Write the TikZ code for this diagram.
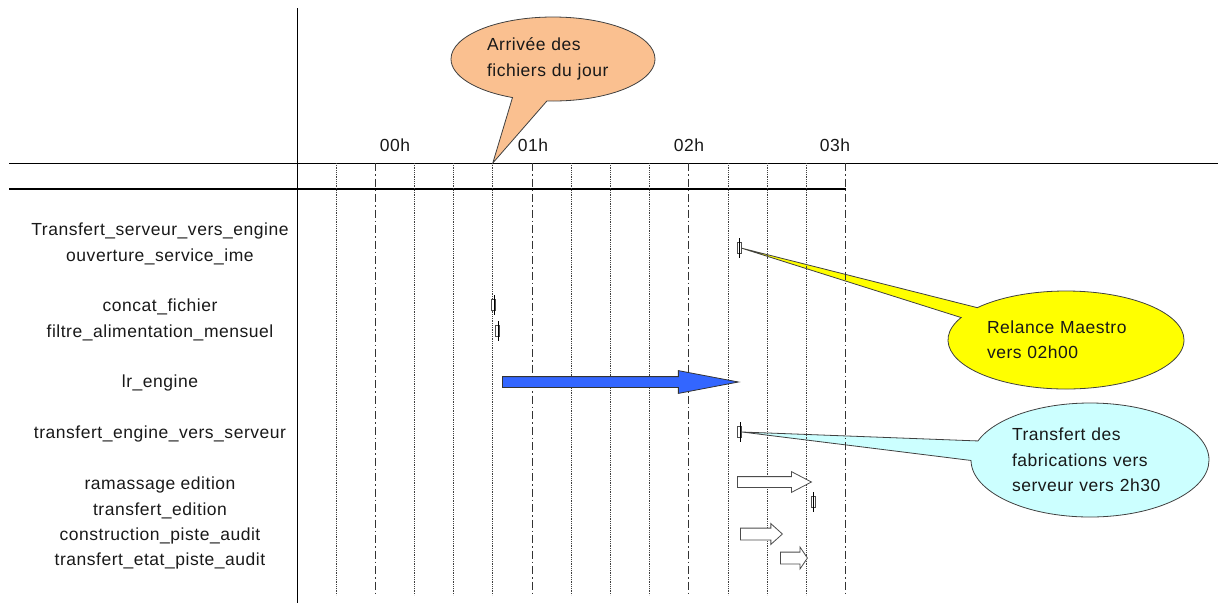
\documentclass[tikz,border=0pt]{standalone}
\usepackage{fontspec}
\setmainfont{Liberation Sans}[LetterSpace=3]
\usetikzlibrary{positioning,shapes.callouts,shapes.arrows}

\definecolor{peche}{RGB}{250,192,144}
\definecolor{jaune}{RGB}{255,255,0}
\definecolor{cyanpale}{RGB}{204,255,255}
\definecolor{bleu}{RGB}{51,102,255}

\tikzset{
  jalon/.pic={
    \draw[gray!60!black, fill=white, line width=0.8] (-2,-5.5) rectangle (2,5.5);
    \draw[line width=0.8] (0.5,-10) -- (0.5,10);
  }
}

\begin{document}
\begin{tikzpicture}[x=1pt, y=-1pt, node distance=25.4pt,
  bulle/.style={ellipse callout, draw=gray!50!black, line width=0.8, inner sep=0, align=left},
  pointille/.style={densely dotted, line width=0.8, black!75},
  heure/.style={dash pattern=on 8pt off 3pt on 1.5pt off 3pt, line width=0.9, black!80},
  barre/.style={single arrow, draw=black!70, fill=white, line width=0.8, single arrow head indent=0, anchor=tail}]
  \tikzstyle{every node}=[font=\fontsize{17.5}{25.4}\selectfont, text=black!90]
  \useasboundingbox (0,0) rectangle (1218,603);

  % bulles
  \coordinate (arrivee) at (492.8,163);
  \coordinate (relance) at (741,248);
  \coordinate (transfert) at (742,432);
  \node[bulle, fill=peche, minimum width=204, minimum height=84, text width=132, callout pointer arc=20,
        callout absolute pointer={(arrivee)}] (c1) at (553,59) {Arrivée des\\fichiers du jour};
  \node[bulle, fill=jaune, minimum width=236, minimum height=98, text width=158, callout pointer arc=14,
        callout absolute pointer={(relance)}] (c2) at (1066,340) {Relance Maestro\\vers 02h00};
  \node[bulle, fill=cyanpale, minimum width=238, minimum height=114, text width=156, callout pointer arc=20,
        callout absolute pointer={(transfert)}] (c3) at (1090,460) {Transfert des\\fabrications vers\\serveur vers 2h30};

  % axes
  \draw[line width=1] (297,8) -- (297,603);
  \draw[line width=1] (9,163) -- (1218,163);
  \draw[line width=2.5] (9,189) -- (845.6,189);

  % grille
  \draw[pointille] (336,163) -- (336,595) (414.4,163) -- (414.4,595) (453.6,163) -- (453.6,595)
    (492.8,163) -- (492.8,595) (571.2,163) -- (571.2,595) (610.4,163) -- (610.4,595)
    (649.6,163) -- (649.6,595) (728,163) -- (728,595) (767.2,163) -- (767.2,595)
    (806.4,163) -- (806.4,595);
  \draw[heure] (375.2,163) -- (375.2,595) (532,163) -- (532,595) (688.8,163) -- (688.8,595)
    (845.6,163) -- (845.6,595);

  \node (h0) at (395,145) {00h};
  \node (h1) at (533,145) {01h};
  \node (h2) at (689,145) {02h};
  \node (h3) at (835,145) {03h};

  % taches
  \node (1) at (160,231) {Transfert\_serveur\_vers\_engine};
  \node (2) [below of=1] {ouverture\_service\_ime};
  \node (3) [below of=2, node distance=50.8pt] {concat\_fichier};
  \node (4) [below of=3] {filtre\_alimentation\_mensuel};
  \node (5) [below of=4, node distance=50.8pt] {lr\_engine};
  \node (6) [below of=5, node distance=50.8pt] {transfert\_engine\_vers\_serveur};
  \node (7) [below of=6, node distance=50.8pt] {ramassage edition};
  \node (8) [below of=7] {transfert\_edition};
  \node (9) [below of=8] {construction\_piste\_audit};
  \node (10) [below of=9] {transfert\_etat\_piste\_audit};

  % barres
  \pic at (739,248) {jalon};
  \pic at (493.5,305) {jalon};
  \pic at (497.5,331) {jalon};
  \pic at (739.5,432) {jalon};
  \pic at (813,502) {jalon};
  \node[barre, fill=bleu, draw=black!80, minimum height=236, inner sep=5,
        single arrow head extend=6, single arrow tip angle=21.5] (b5) at (502,382) {};
  \node[barre, minimum height=74, inner sep=5,
        single arrow head extend=5, single arrow tip angle=55] (b7) at (737,482) {};
  \node[barre, minimum height=42, inner sep=5.5,
        single arrow head extend=4.5, single arrow tip angle=84] (b9) at (740,534) {};
  \node[barre, minimum height=27, inner sep=5.5,
        single arrow head extend=5, single arrow tip angle=112] (b10) at (780,558) {};
\end{tikzpicture}
\end{document}
